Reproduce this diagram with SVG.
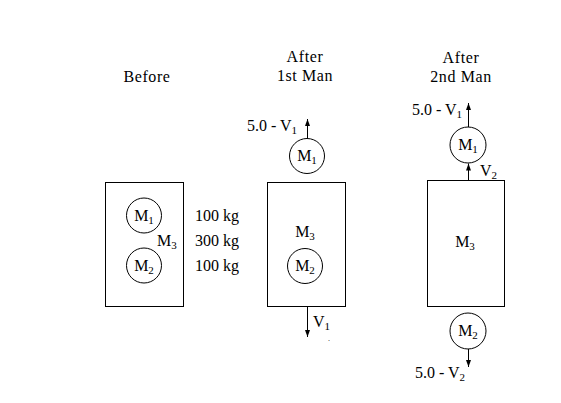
<svg xmlns="http://www.w3.org/2000/svg" width="561" height="403" viewBox="0 0 561 403">
<style>
.t{font-family:"Liberation Serif","Times New Roman",serif;font-size:16px;fill:#000}
.h{letter-spacing:0.6px}
.s{font-size:11px}
.box{fill:none;stroke:#000;stroke-width:1}
.ball{fill:#fff;stroke:#000;stroke-width:1}
.ar{stroke:#000;stroke-width:1;fill:none}
</style>
<defs>
<marker id="ah" markerUnits="userSpaceOnUse" markerWidth="8" markerHeight="8" refX="7" refY="2.5" orient="auto">
<path d="M0,0 L7,2.5 L0,5 Z" fill="#000"/>
</marker>
</defs>
<rect width="561" height="403" fill="#fff"/>

<g id="titles">
<text class="t h" x="147" y="82" text-anchor="middle">Before</text>
<text class="t h" x="305" y="62" text-anchor="middle">After</text>
<text class="t h" x="305" y="81" text-anchor="middle">1st Man</text>
<text class="t h" x="461" y="63" text-anchor="middle">After</text>
<text class="t h" x="461" y="82" text-anchor="middle">2nd Man</text>
</g>

<g id="before">
<rect class="box" x="105.5" y="182.5" width="78" height="124"/>
<g id="before-m1">
<circle class="ball" cx="144" cy="215.5" r="17.5"/>
<text class="t" x="144" y="220.5" text-anchor="middle">M<tspan class="s" dy="3">1</tspan></text>
</g>
<g id="before-m2">
<circle class="ball" cx="144" cy="265.5" r="17.5"/>
<text class="t" x="144" y="270.5" text-anchor="middle">M<tspan class="s" dy="3">2</tspan></text>
</g>
<text class="t" x="157" y="246">M<tspan class="s" dy="3">3</tspan></text>
<text class="t" x="195" y="221">100 kg</text>
<text class="t" x="195" y="246">300 kg</text>
<text class="t" x="195" y="271">100 kg</text>
</g>

<g id="after1">
<g id="a1-m1">
<circle class="ball" cx="307" cy="156" r="17.5"/>
<text class="t" x="307" y="161" text-anchor="middle">M<tspan class="s" dy="3">1</tspan></text>
</g>
<rect class="box" x="267.5" y="182.5" width="78" height="124"/>
<text class="t" x="305" y="237" text-anchor="middle">M<tspan class="s" dy="3">3</tspan></text>
<g id="a1-m2">
<circle class="ball" cx="305" cy="266" r="17.5"/>
<text class="t" x="305" y="271" text-anchor="middle">M<tspan class="s" dy="3">2</tspan></text>
</g>
<text class="t" x="247" y="131">5.0 - V<tspan class="s" dy="3">1</tspan></text>
<text class="t" x="313" y="327">V<tspan class="s" dy="3">1</tspan></text>
<text class="t" x="328" y="341" style="font-size:8px">.</text>
</g>

<g id="after2">
<g id="a2-m1">
<circle class="ball" cx="468" cy="145" r="18"/>
<text class="t" x="468" y="150" text-anchor="middle">M<tspan class="s" dy="3">1</tspan></text>
</g>
<rect class="box" x="427.5" y="180.5" width="77" height="126"/>
<text class="t" x="465" y="247" text-anchor="middle">M<tspan class="s" dy="3">3</tspan></text>
<g id="a2-m2">
<circle class="ball" cx="468" cy="331" r="18"/>
<text class="t" x="468" y="336" text-anchor="middle">M<tspan class="s" dy="3">2</tspan></text>
</g>
<text class="t" x="412" y="115">5.0 - V<tspan class="s" dy="3">1</tspan></text>
<text class="t" x="480" y="176">V<tspan class="s" dy="3">2</tspan></text>
<text class="t" x="415" y="378">5.0 - V<tspan class="s" dy="3">2</tspan></text>
</g>

<g id="connectors">
<line class="ar" x1="307.5" y1="138.5" x2="307.5" y2="119" marker-end="url(#ah)"/>
<line class="ar" x1="307.5" y1="306.5" x2="307.5" y2="337" marker-end="url(#ah)"/>
<line class="ar" x1="468.5" y1="127" x2="468.5" y2="103" marker-end="url(#ah)"/>
<line class="ar" x1="468.5" y1="180.5" x2="468.5" y2="163.5" marker-end="url(#ah)"/>
<line class="ar" x1="468.5" y1="349" x2="468.5" y2="367" marker-end="url(#ah)"/>
</g>
</svg>
